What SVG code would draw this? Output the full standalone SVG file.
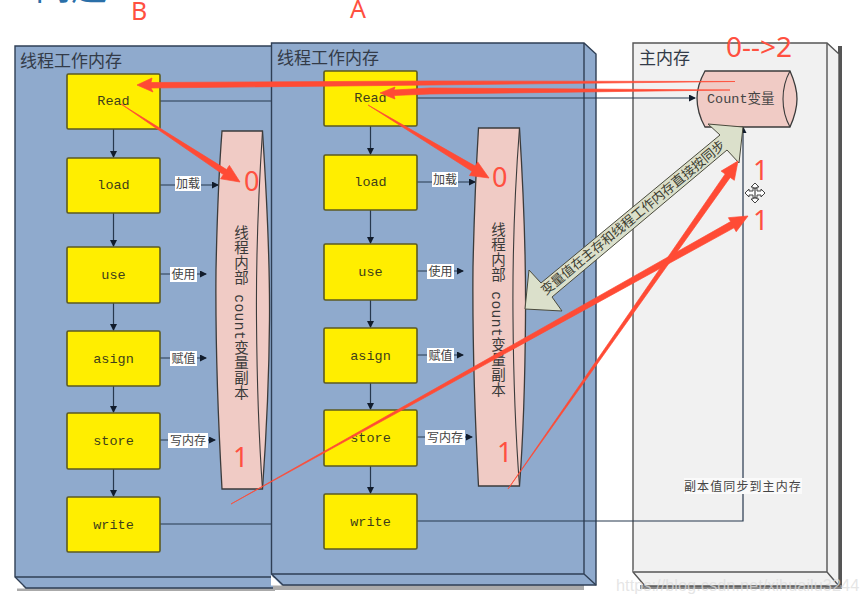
<svg xmlns="http://www.w3.org/2000/svg" width="861" height="601" viewBox="0 0 861 601">
<style>
.cjk{font-family:"Noto Sans CJK SC","Liberation Serif",serif}
.panel{stroke:#2f3f55;stroke-width:1.4}
.blue{fill:#8faacd}
.mem{fill:#f1f1f1;stroke:#555;stroke-width:1.4}
.box rect{fill:#ffee00;stroke:#5c5a20;stroke-width:1.6;rx:1.5px}
.box text{font-family:"Liberation Mono","DejaVu Sans Mono",monospace;font-size:13.500px;fill:#3e3e1a;text-anchor:middle}
.title{font-size:17px;fill:#333b48}
.lab{font-family:"Noto Sans CJK SC",serif;font-size:12px;fill:#444;text-anchor:middle}
.w{fill:#fff}
.line{fill:none;stroke:#27384e;stroke-width:1.2}
.copy{fill:#f0cbc5;stroke:#3b3b3b;stroke-width:1.3}
.fold{fill:none;stroke:#3b3b3b;stroke-width:1.1}
.vt{font-family:"Liberation Mono","Noto Sans CJK SC",monospace;font-size:14.500px;fill:#3a3a3a;writing-mode:vertical-rl;letter-spacing:.5px}
.red{font-family:"Noto Sans","Liberation Sans",sans-serif;fill:#ff5040}
.r{fill:#ff4b35;stroke:#ff4b35;stroke-width:.7}
</style>
<defs>
<marker id="a" markerWidth="7" markerHeight="7" refX="6" refY="3.500" orient="auto" markerUnits="userSpaceOnUse"><path d="M0 0L7 3.500L0 7Z" fill="#111c2c"/></marker>
</defs>
<rect width="861" height="601" fill="#fff"/>
<text class="cjk" x="-1" y="0" font-size="36" fill="#2a6fa8">工问题</text>

<g id="panel-B">
<rect x="17" y="586" width="258" height="5" fill="#aaa"/>
<path class="panel blue" d="M15 46H284V588H26L15 577Z"/>
<path class="panel" fill="none" d="M15 577H284"/>
<path d="M14.500 578L25 588.500H14.500Z" fill="#fff"/>
<text class="cjk title" x="20" y="67">线程工作内存</text>
</g>
<g id="main-memory">
<rect x="838" y="46" width="4" height="541" fill="#555"/>
<rect x="640" y="585" width="202" height="4" fill="#888"/>
<path class="mem" d="M633 43H827L839 54V586H645L633 572Z"/>
<path class="mem" fill="none" d="M827 43V572H633M827 572L839 586"/>
<text class="cjk title" x="639" y="64">主内存</text>
</g>
<g id="panel-A">
<rect x="273" y="585" width="311" height="5" fill="#aaa"/>
<path class="panel blue" d="M271.500 43H584L596 54V585H283L271.500 574Z"/>
<path class="panel" fill="none" d="M584 43V574H271.500M584 574L596 585"/>
<path d="M271 575L281.500 585.500H271Z" fill="#fff"/>
<text class="cjk title" x="277" y="64">线程工作内存</text>
</g>

<g id="connectors">
<path class="line" d="M160 101H271"/>
<path class="line" d="M417 98H695" marker-end="url(#a)"/>
<path class="line" d="M160 524H271"/>
<path class="line" stroke-width="1.4" d="M417 521H743V127" marker-end="url(#a)"/>
<path class="line" d="M113.500 129V157" marker-end="url(#a)"/>
<path class="line" d="M113.500 213V246" marker-end="url(#a)"/>
<path class="line" d="M113.500 303V330" marker-end="url(#a)"/>
<path class="line" d="M113.500 386V412" marker-end="url(#a)"/>
<path class="line" d="M113.500 469V496" marker-end="url(#a)"/>
<path class="line" d="M370.500 126V154" marker-end="url(#a)"/>
<path class="line" d="M370.500 210V243" marker-end="url(#a)"/>
<path class="line" d="M370.500 300V327" marker-end="url(#a)"/>
<path class="line" d="M370.500 383V409" marker-end="url(#a)"/>
<path class="line" d="M370.500 466V493" marker-end="url(#a)"/>
<path class="line" d="M160 185H218" marker-end="url(#a)"/>
<path class="line" d="M160 274H206" marker-end="url(#a)"/>
<path class="line" d="M160 358H206" marker-end="url(#a)"/>
<path class="line" d="M160 440H215" marker-end="url(#a)"/>
<path class="line" d="M417 182H475" marker-end="url(#a)"/>
<path class="line" d="M417 271H463" marker-end="url(#a)"/>
<path class="line" d="M417 355H463" marker-end="url(#a)"/>
<path class="line" d="M417 437H472" marker-end="url(#a)"/>
</g>

<g id="labels-B">
<rect class="w" x="175" y="176" width="26" height="15"/><text class="lab" x="188" y="188">加载</text>
<rect class="w" x="170" y="267" width="27" height="15"/><text class="lab" x="183.500" y="279">使用</text>
<rect class="w" x="170" y="351" width="27" height="15"/><text class="lab" x="183.500" y="363">赋值</text>
<rect class="w" x="168" y="433" width="40" height="15"/><text class="lab" x="188" y="445">写内存</text>
</g>
<g id="labels-A">
<rect class="w" x="432" y="172" width="26" height="15"/><text class="lab" x="445" y="184">加载</text>
<rect class="w" x="427" y="264" width="27" height="15"/><text class="lab" x="440.500" y="276">使用</text>
<rect class="w" x="427" y="348" width="27" height="15"/><text class="lab" x="440.500" y="360">赋值</text>
<rect class="w" x="425" y="430" width="40" height="15"/><text class="lab" x="445" y="442">写内存</text>
</g>

<g id="node-read-b" class="box"><rect x="67" y="74" width="93" height="55"/><text x="113.500" y="105">Read</text></g>
<g id="node-load-b" class="box"><rect x="67" y="158" width="93" height="55"/><text x="113.500" y="189">load</text></g>
<g id="node-use-b" class="box"><rect x="67" y="247" width="93" height="56"/><text x="113.500" y="279">use</text></g>
<g id="node-asign-b" class="box"><rect x="67" y="331" width="93" height="55"/><text x="113.500" y="363">asign</text></g>
<g id="node-store-b" class="box"><rect x="67" y="413" width="93" height="56"/><text x="113.500" y="445">store</text></g>
<g id="node-write-b" class="box"><rect x="67" y="497" width="93" height="55"/><text x="113.500" y="529">write</text></g>

<g id="node-read-a" class="box"><rect x="324" y="71" width="93" height="55"/><text x="370.500" y="102">Read</text></g>
<g id="node-load-a" class="box"><rect x="324" y="155" width="93" height="55"/><text x="370.500" y="186">load</text></g>
<g id="node-use-a" class="box"><rect x="324" y="244" width="93" height="56"/><text x="370.500" y="276">use</text></g>
<g id="node-asign-a" class="box"><rect x="324" y="328" width="93" height="55"/><text x="370.500" y="360">asign</text></g>
<g id="node-store-a" class="box"><rect x="324" y="410" width="93" height="56"/><text x="370.500" y="442">store</text></g>
<g id="node-write-a" class="box"><rect x="324" y="494" width="93" height="55"/><text x="370.500" y="526">write</text></g>

<g id="copy-b">
<path class="copy" d="M222 131H262.500C267 200 270 260 269.500 320C269 390 266 440 262.500 489H222C217 400 215.500 320 216 270C217 220 219 170 222 131Z"/>
<path class="fold" d="M262.500 131C258 200 256 260 256.500 320C257 390 259 440 262.500 489"/>
<text class="vt" x="239" y="225">线程内部 count变量副本</text>
</g>
<g id="copy-a">
<path class="copy" d="M478.500 128H519.500C524 200 526 260 525.500 317C525 390 523 440 519.500 486H478.500C474 400 472.500 320 473 267C474 220 476 170 478.500 128Z"/>
<path class="fold" d="M519.500 128C514 200 512.500 260 513 317C513.500 390 516 440 519.500 486"/>
<text class="vt" x="496" y="222">线程内部 count变量副本</text>
</g>

<g id="count-var">
<path class="copy" d="M705 71H790C794 80 797 90 797 99C797 108 794 118 790 127H705C700 118 697 108 697 98C697 88 700 80 705 71Z" stroke="#555"/>
<path class="fold" stroke="#555" d="M790 71C785 80 783 90 783 99C783 108 785 118 790 127"/>
<text x="707" y="103" font-size="13.500" fill="#444" style="font-family:'Liberation Mono','Noto Sans CJK SC',monospace">Count变量</text>
</g>

<g id="sync-arrow">
<polygon points="743,127 739,163 727,150 552,297 562,311 525,309 529,270 541,283 720,135 708,124" fill="#dbe0cb" stroke="#4a4a3c" stroke-width="1"/>
<text class="cjk" font-size="13" fill="#3c3c30" text-anchor="middle" transform="translate(636 221) rotate(-39.500)">变量值在主存和线程工作内存直接按同步</text>
</g>

<g id="sync-label">
<rect x="684" y="478" width="118" height="16" fill="#fafafa"/>
<text class="cjk" font-size="12" fill="#444" letter-spacing="1.100" x="684" y="491">副本值同步到主内存</text>
</g>

<g id="annotation-arrows">
<polygon class="r" points="735,81.500 430,81 151,82.500 152,78 137,85 153,92 151,88 430,85"/>
<polygon class="r" points="730,90 430,88 394,90 395,87 380,93 395,99 394,95.500 430,94"/>
<polygon class="r" points="121,104 226.600,169.600 229.400,165.400 240,182 220.600,178.800 223.400,174.600"/>
<polygon class="r" points="368,105 475.200,166.100 477.700,161.900 489,178 469.500,175.500 472,171.300"/>
<polygon class="r" points="231,504 730.600,221.600 728.400,217.700 748,216 736.200,231.700 734,227.800"/>
<polygon class="r" points="508,489 725.200,174 721.100,171.100 738,161 734.300,180.300 730.200,177.400"/>
</g>

<g id="annotations">
<text class="red" font-size="25" x="131" y="20">B</text>
<text class="red" font-size="25" x="350" y="18">A</text>
<text class="red" font-size="27" x="244" y="191">0</text>
<text class="red" font-size="27" x="492" y="187">0</text>
<text class="red" font-size="28" x="726" y="57">0--&gt;2</text>
<text class="red" font-size="27" x="753" y="180">1</text>
<text class="red" font-size="27" x="753" y="230">1</text>
<text class="red" font-size="27" x="233" y="467">1</text>
<text class="red" font-size="27" x="497" y="462">1</text>
</g>

<g id="cursor">
<path d="M755 183L759 187H757V191H761V189L765 193L761 197V195H757V199H759L755 203L751 199H753V195H749V197L745 193L749 189V191H753V187H751Z" fill="#fff" stroke="#444" stroke-width="1"/>
<path d="M755 188V198M753 188H757M753 198H757" stroke="#222" stroke-width="1" fill="none"/>
</g>

<text id="watermark" x="616" y="591" font-family="'Liberation Sans',sans-serif" font-size="16.400" fill="#ddd" fill-opacity=".75">https://blog.csdn.net/xihuailu3244</text>
</svg>
